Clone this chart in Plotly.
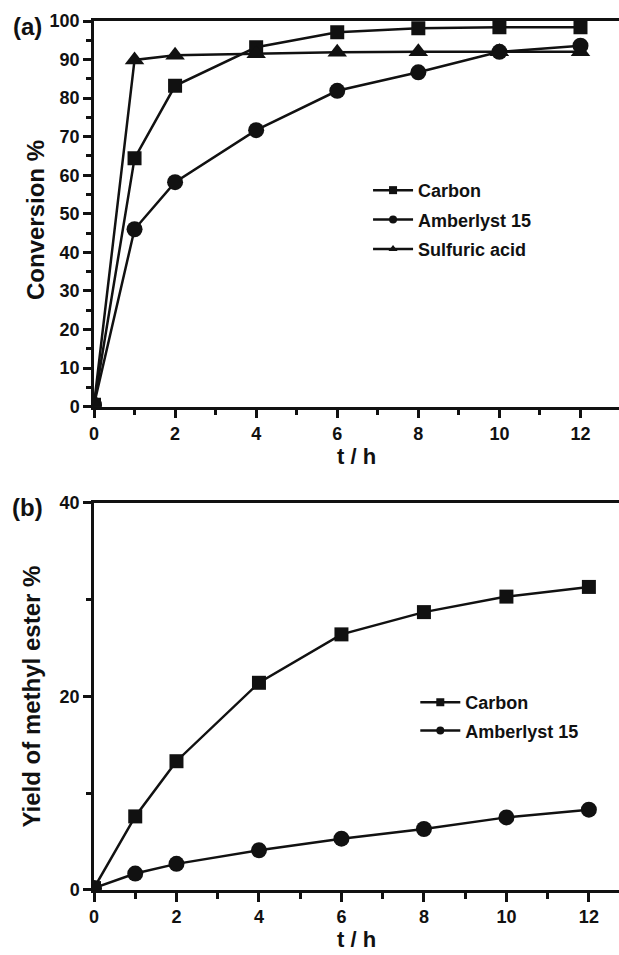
import plotly.graph_objects as go

# Reaction time (h)
t_hours = [0, 1, 2, 4, 6, 8, 10, 12]

# (a) Conversion %
conv_carbon = [0.5, 64.4, 83.2, 93.2, 97.1, 98.1, 98.4, 98.4]
conv_amberlyst = [0.5, 46.0, 58.2, 71.7, 81.9, 86.7, 92.0, 93.6]
conv_sulfuric = [0.5, 89.9, 91.1, 91.5, 91.9, 92.0, 92.0, 92.0]

# (b) Yield of methyl ester %
yield_carbon = [0.2, 7.6, 13.3, 21.4, 26.4, 28.7, 30.3, 31.3]
yield_amberlyst = [0.2, 1.7, 2.7, 4.1, 5.3, 6.3, 7.5, 8.3]

x_ticks = [0, 2, 4, 6, 8, 10, 12]
y_ticks_a = list(range(0, 101, 10))
y_ticks_b = [0, 20, 40]

INK = "#111111"
FONT = "Liberation Sans, Arial, Helvetica, sans-serif"

fig = go.Figure()


def series(x, y, symbol, size, xa, ya):
    return go.Scatter(
        x=x, y=y, mode="lines+markers", xaxis=xa, yaxis=ya,
        line=dict(color=INK, width=2.5),
        marker=dict(symbol=symbol, size=size, color=INK),
        showlegend=False, hoverinfo="x+y", cliponaxis=True,
    )


def legend_entry(name, symbol, legend, group):
    return go.Scatter(
        x=[None], y=[None], mode="lines+markers", name=name,
        line=dict(color=INK, width=2.5),
        marker=dict(symbol=symbol, size=8, color=INK),
        legend=legend, legendgroup=group, showlegend=True,
    )


# panel (a)
fig.add_trace(series(t_hours, conv_carbon, "square", 14, "x", "y"))
fig.add_trace(series(t_hours, conv_amberlyst, "circle", 16, "x", "y"))
fig.add_trace(series(t_hours, conv_sulfuric, "triangle-up", 17, "x", "y"))
# panel (b)
fig.add_trace(series(t_hours, yield_carbon, "square", 14, "x2", "y2"))
fig.add_trace(series(t_hours, yield_amberlyst, "circle", 16, "x2", "y2"))

fig.add_trace(legend_entry("Carbon", "square", "legend", "a1"))
fig.add_trace(legend_entry("Amberlyst 15", "circle", "legend", "a2"))
fig.add_trace(legend_entry("Sulfuric acid", "triangle-up", "legend", "a3"))
fig.add_trace(legend_entry("Carbon", "square", "legend2", "b1"))
fig.add_trace(legend_entry("Amberlyst 15", "circle", "legend2", "b2"))

tick_font = dict(family=FONT, size=18, color=INK, weight="bold")

x_common = dict(
    tickmode="array", tickvals=x_ticks, ticks="outside", ticklen=9, tickwidth=2.5,
    tickcolor=INK, showline=True, linewidth=2.5, linecolor=INK, mirror=True,
    showgrid=False, zeroline=False, tickfont=tick_font,
    minor=dict(ticks="outside", ticklen=6, tickwidth=2.5, tickcolor=INK, dtick=1, tick0=0, showgrid=False),
)
y_common = dict(
    ticks="outside", ticklen=8, tickwidth=2.5, tickcolor=INK, showline=True,
    linewidth=2.5, linecolor=INK, mirror=False, showgrid=False, zeroline=False,
    tickfont=tick_font,
)

legend_common = dict(
    font=dict(family=FONT, size=18, color=INK, weight="bold"),
    bgcolor="rgba(0,0,0,0)", borderwidth=0, itemwidth=40,
    traceorder="grouped", xanchor="left", yanchor="top",
)

fig.update_layout(
    width=619, height=955,
    margin=dict(l=94, r=0, t=21, b=65),
    paper_bgcolor="white", plot_bgcolor="white",
    xaxis=dict(x_common, range=[0, 12.95], domain=[0, 1], anchor="y"),
    yaxis=dict(y_common, range=[0, 100], domain=[0.5562, 1], anchor="x",
               tickmode="array", tickvals=y_ticks_a,
               minor=dict(ticks="outside", ticklen=5, tickwidth=2.5, tickcolor=INK, dtick=5, tick0=0, showgrid=False)),
    xaxis2=dict(x_common, range=[0, 12.73], domain=[0, 1], anchor="y2"),
    yaxis2=dict(y_common, range=[0, 40], domain=[0, 0.4457], anchor="x2",
                tickmode="array", tickvals=y_ticks_b,
                minor=dict(ticks="outside", ticklen=5, tickwidth=2.5, tickcolor=INK, dtick=10, tick0=0, showgrid=False)),
    legend=dict(legend_common, x=0.522, y=0.8263, tracegroupgap=3),
    legend2=dict(legend_common, x=0.612, y=0.2371, tracegroupgap=2),
)

title_font = dict(family=FONT, size=24, color=INK, weight="bold")
label_font = dict(family=FONT, size=24, color=INK, weight="bold")
xtitle_font = dict(family=FONT, size=22, color=INK, weight="bold")

annotations = [
    dict(text="(a)", x=-0.1267, y=0.9942, font=label_font),
    dict(text="(b)", x=-0.1267, y=0.4407, font=label_font),
    dict(text="Conversion %", x=-0.1124, y=0.771, textangle=-90, font=title_font),
    dict(text="Yield of methyl ester %", x=-0.119, y=0.2221, textangle=-90, font=title_font),
    dict(text="t / h", x=0.5, y=0.499, font=xtitle_font),
    dict(text="t / h", x=0.5, y=-0.0575, font=xtitle_font),
]
for a in annotations:
    fig.add_annotation(xref="paper", yref="paper", showarrow=False,
                       xanchor="center", yanchor="middle", **a)

fig.write_html("out.html")
